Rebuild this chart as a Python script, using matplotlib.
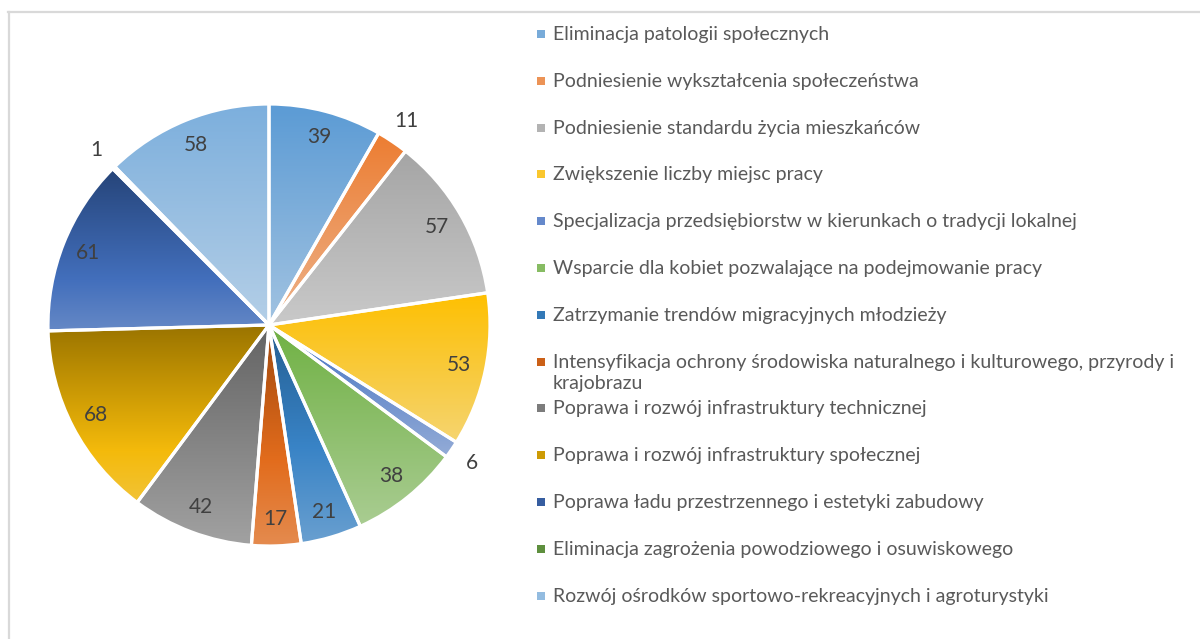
import colorsys
import numpy as np
import matplotlib
matplotlib.use('Agg')
import matplotlib.pyplot as plt
from matplotlib.colors import to_rgb

categories = [
    "Eliminacja patologii społecznych",
    "Podniesienie wykształcenia społeczeństwa",
    "Podniesienie standardu życia mieszkańców",
    "Zwiększenie liczby miejsc pracy",
    "Specjalizacja przedsiębiorstw w kierunkach o tradycji lokalnej",
    "Wsparcie dla kobiet pozwalające na podejmowanie pracy",
    "Zatrzymanie trendów migracyjnych młodzieży",
    "Intensyfikacja ochrony środowiska naturalnego i kulturowego, przyrody i\nkrajobrazu",
    "Poprawa i rozwój infrastruktury technicznej",
    "Poprawa i rozwój infrastruktury społecznej",
    "Poprawa ładu przestrzennego i estetyki zabudowy",
    "Eliminacja zagrożenia powodziowego i osuwiskowego",
    "Rozwój ośrodków sportowo-rekreacyjnych i agroturystyki",
]
values = [39, 11, 57, 53, 6, 38, 21, 17, 42, 68, 61, 1, 58]
colors = ["#5B9BD5", "#ED7D31", "#A5A5A5", "#FFC000", "#4472C4", "#70AD47",
          "#255E91", "#9E480E", "#636363", "#997300", "#264478", "#43682B",
          "#7CAFDD"]

plt.rcParams['font.family'] = ['Lato', 'DejaVu Sans']

W, H = 1200, 639
fig = plt.figure(figsize=(W / 100, H / 100), dpi=100)
ax = fig.add_axes([0, 0, 1, 1])

cx, cy, R = 269, H - 325, 221


def lighter(c, t):
    h, l, s = colorsys.rgb_to_hls(*to_rgb(c))
    return colorsys.hls_to_rgb(h, l + 0.4 * t * (1 - l), s * (1 - 0.12 * t))


wedges, _ = ax.pie(values, center=(cx, cy), radius=R, startangle=90,
                   counterclock=False,
                   wedgeprops=dict(facecolor='none', edgecolor='white',
                                   linewidth=2.3, zorder=3))

# vertical gradient per slice: base colour at the top, lighter at the bottom
for w, c in zip(wedges, colors):
    bb = w.get_path().get_extents()
    grad = np.array([lighter(c, t) for t in np.linspace(0, 1, 256)])[:, None, :]
    im = ax.imshow(grad, extent=(bb.x0, bb.x1, bb.y0, bb.y1), origin='upper',
                   aspect='auto', interpolation='bilinear', zorder=1)
    im.set_clip_path(w)

# data labels
total = sum(values)
cum = 0
for v in values:
    th = np.radians((cum + v / 2) / total * 360)
    cum += v
    r = 1.11 * R if v / total < 0.03 else 0.88 * R
    ax.text(cx + r * np.sin(th), cy + r * np.cos(th), str(v), ha='center',
            va='center', fontsize=15, color='#404040', zorder=5)

# legend
for i, (name, c) in enumerate(zip(categories, colors)):
    y = H - (34 + i * 46.8)
    ax.scatter([541], [y], marker='s', s=26, color=lighter(c, 0.4),
               linewidths=0, zorder=5)
    ax.text(553, y + 8, name, ha='left', va='top', fontsize=14,
            color='#595959', linespacing=1.3, zorder=5)

# chart area border
ax.plot([8, W], [H - 12, H - 12], color='#D9D9D9', lw=1.6, zorder=0)
ax.plot([9, 9], [H - 12, 0], color='#D9D9D9', lw=1.6, zorder=0)

ax.set_xlim(0, W)
ax.set_ylim(0, H)
ax.set_aspect('auto')
ax.axis('off')

fig.savefig('out.png', dpi=100)
